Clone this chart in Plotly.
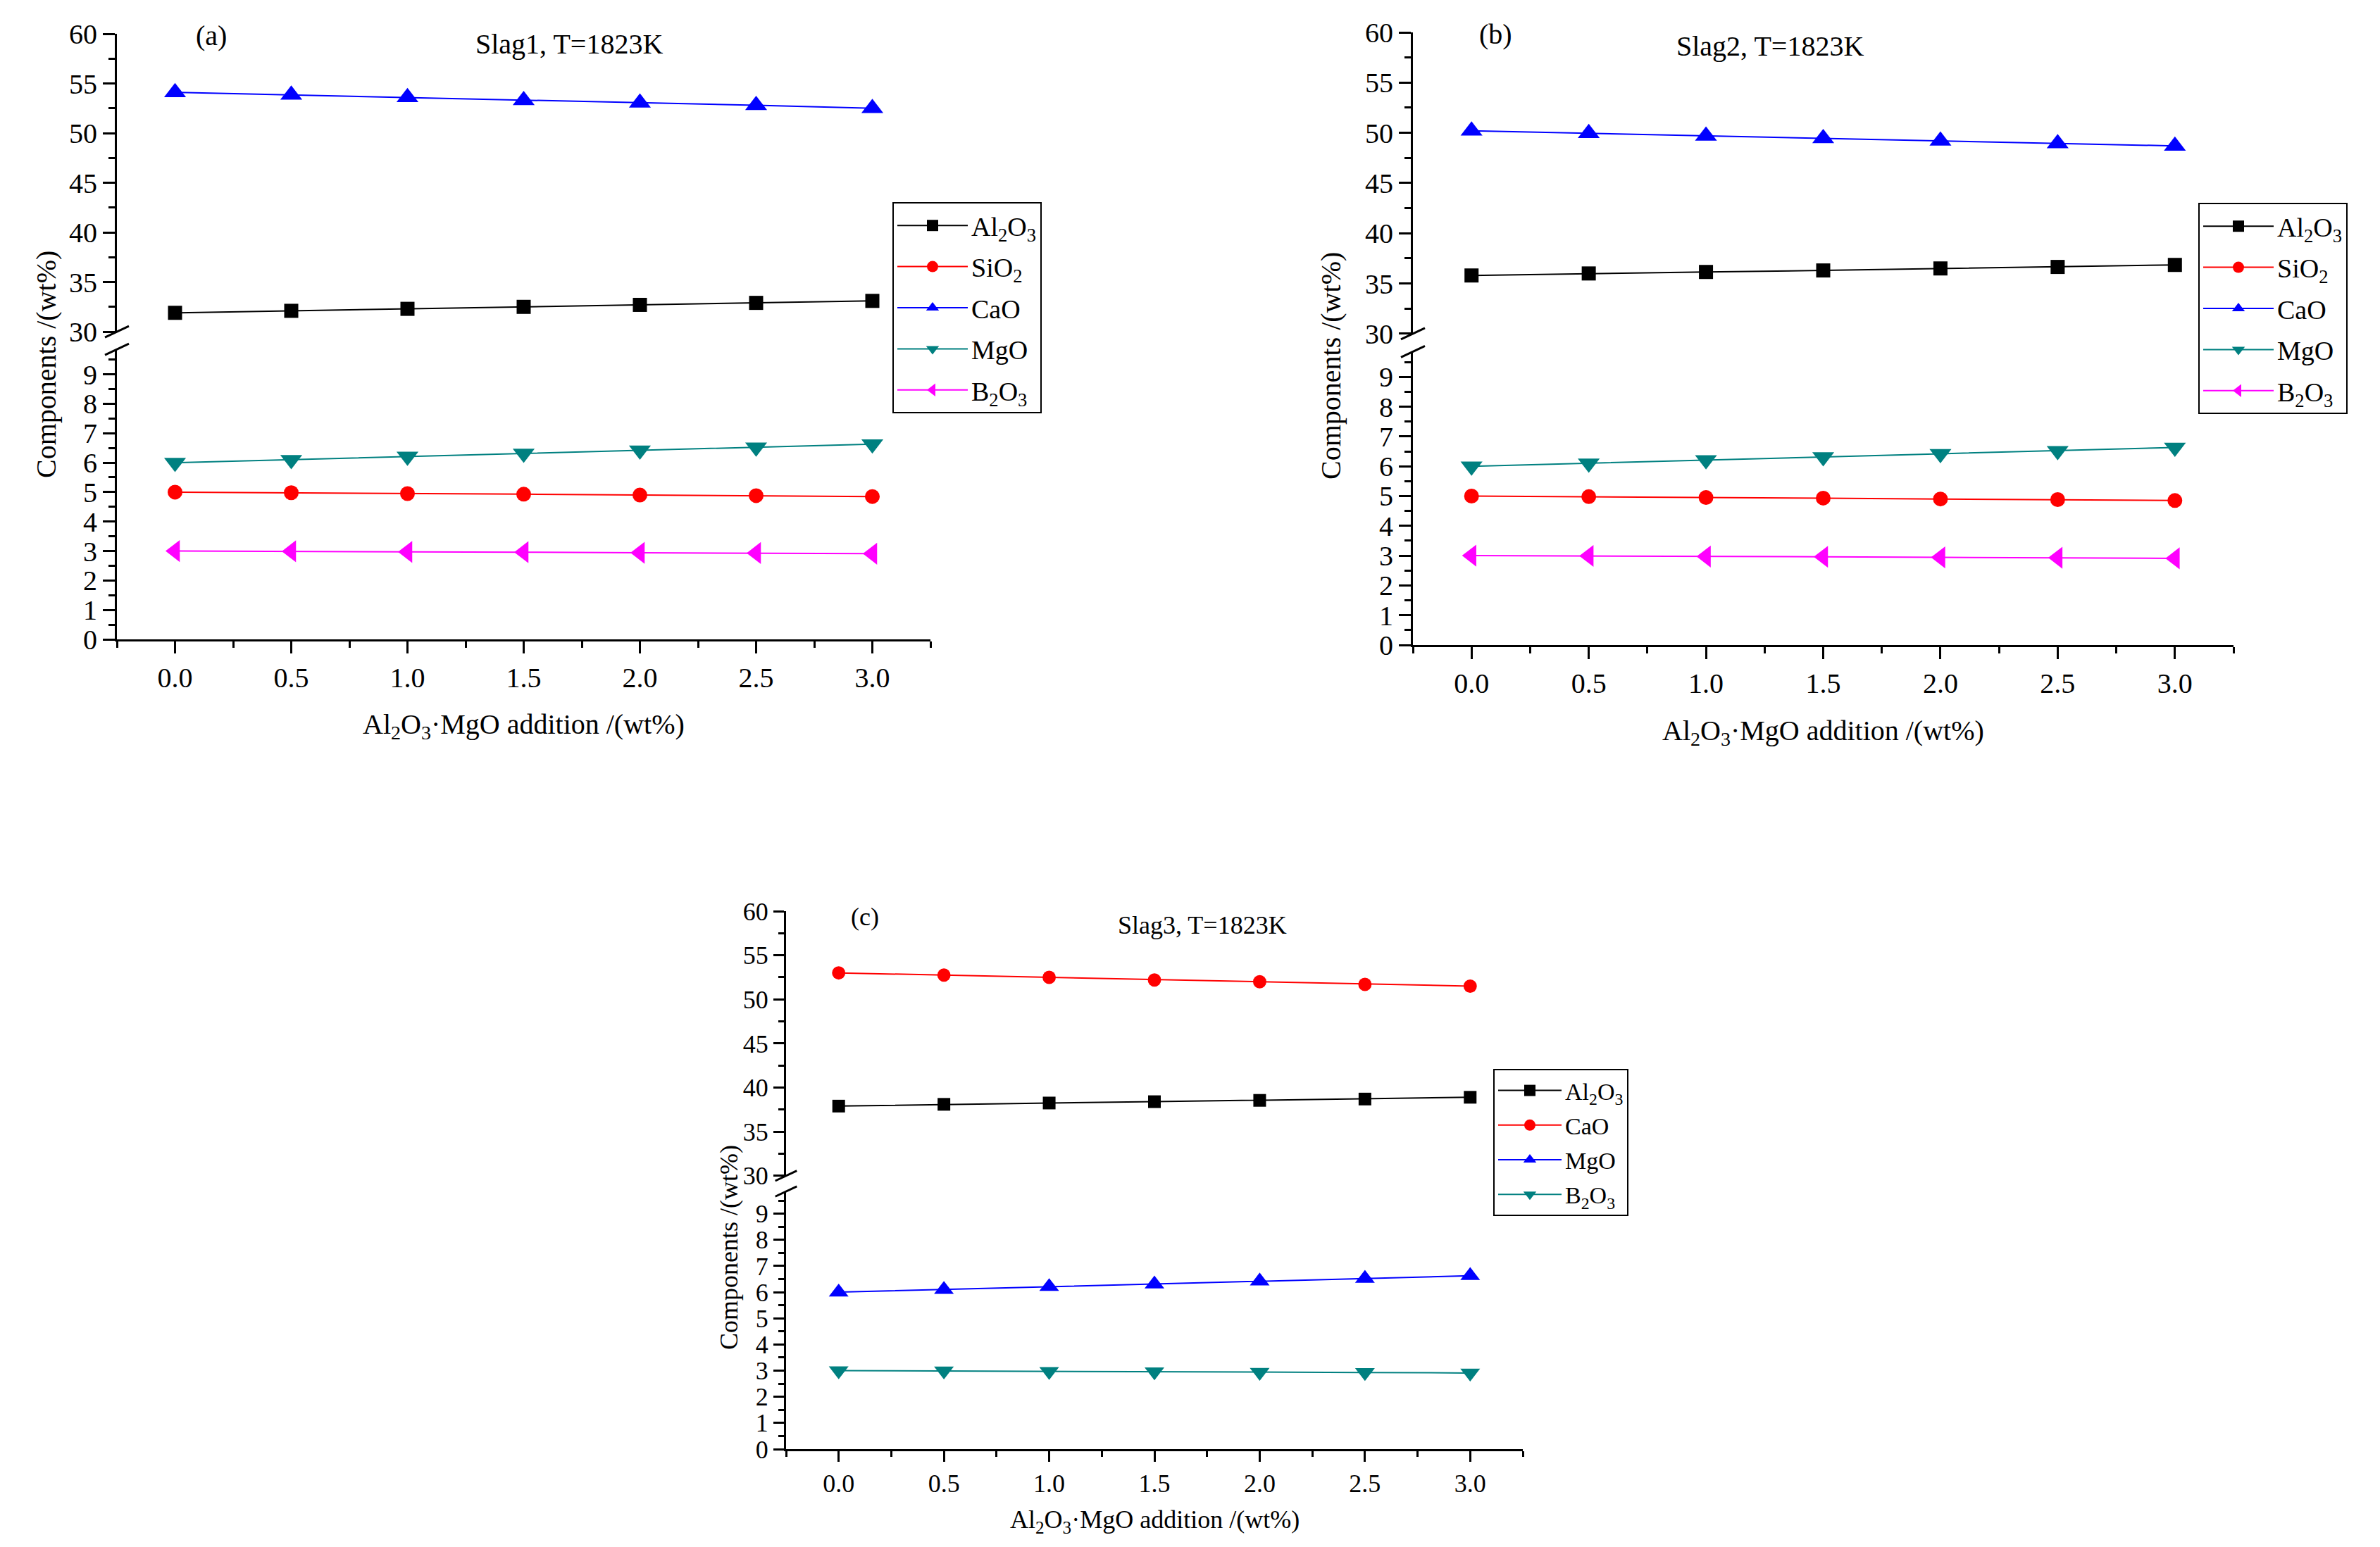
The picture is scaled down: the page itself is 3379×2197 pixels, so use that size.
import plotly.graph_objects as go

W, H = 3379, 2197
OFF = 8  # page body margin of the html output
FONT = "Liberation Serif"

# x values shared by all panels
addition = [0.0, 0.5, 1.0, 1.5, 2.0, 2.5, 3.0]

# (a) Slag1
slag1_al2o3 = [31.9, 32.1, 32.3, 32.5, 32.7, 32.9, 33.1]
slag1_sio2 = [5.00, 4.98, 4.95, 4.93, 4.90, 4.88, 4.85]
slag1_cao = [54.1, 53.85, 53.6, 53.3, 53.05, 52.8, 52.5]
slag1_mgo = [6.00, 6.10, 6.21, 6.31, 6.42, 6.52, 6.63]
slag1_b2o3 = [3.00, 2.99, 2.97, 2.96, 2.94, 2.93, 2.91]

# (b) Slag2
slag2_al2o3 = [35.8, 36.0, 36.15, 36.3, 36.5, 36.65, 36.85]
slag2_sio2 = [5.00, 4.98, 4.95, 4.93, 4.90, 4.88, 4.85]
slag2_cao = [50.2, 49.95, 49.7, 49.45, 49.2, 48.95, 48.7]
slag2_mgo = [6.00, 6.10, 6.21, 6.31, 6.42, 6.52, 6.63]
slag2_b2o3 = [3.00, 2.99, 2.97, 2.96, 2.94, 2.93, 2.91]

# (c) Slag3
slag3_al2o3 = [37.9, 38.1, 38.25, 38.4, 38.55, 38.7, 38.9]
slag3_cao = [53.0, 52.75, 52.5, 52.2, 52.0, 51.7, 51.5]
slag3_mgo = [6.00, 6.10, 6.21, 6.31, 6.42, 6.52, 6.63]
slag3_b2o3 = [3.00, 2.99, 2.97, 2.96, 2.94, 2.93, 2.91]

AL2O3 = "Al<sub>2</sub>O<sub>3</sub>"
SIO2 = "SiO<sub>2</sub>"
B2O3 = "B<sub>2</sub>O<sub>3</sub>"

BLACK, RED, BLUE, TEAL, MAGENTA = "#000000", "#FF0000", "#0000FF", "#008080", "#FF00FF"

panels = [
    dict(tag="(a)", title="Slag1, T=1823K", left=166, right=1321, top=48, bottom=908,
         s=1.0, label_xy=(300, 50), title_xy=(808, 62), ytitle_x=65, ytitle_y=518,
         xtitle_y=1031, legend_xy=(1267, 287), gap=6,
         series=[(AL2O3, slag1_al2o3, BLACK, "square"),
                 (SIO2, slag1_sio2, RED, "circle"),
                 ("CaO", slag1_cao, BLUE, "triangle-up"),
                 ("MgO", slag1_mgo, TEAL, "triangle-down"),
                 (B2O3, slag1_b2o3, MAGENTA, "triangle-left")]),
    dict(tag="(b)", title="Slag2, T=1823K", left=2006, right=3171, top=46, bottom=916,
         s=1.0, label_xy=(2123, 48), title_xy=(2513, 66), ytitle_x=1889, ytitle_y=520,
         xtitle_y=1040, legend_xy=(3121, 288), gap=6,
         series=[(AL2O3, slag2_al2o3, BLACK, "square"),
                 (SIO2, slag2_sio2, RED, "circle"),
                 ("CaO", slag2_cao, BLUE, "triangle-up"),
                 ("MgO", slag2_mgo, TEAL, "triangle-down"),
                 (B2O3, slag2_b2o3, MAGENTA, "triangle-left")]),
    dict(tag="(c)", title="Slag3, T=1823K", left=1116, right=2162, top=1294, bottom=2058,
         s=0.9, label_xy=(1228, 1302), title_xy=(1707, 1314), ytitle_x=1035, ytitle_y=1772,
         xtitle_y=2160, legend_xy=(2120, 1518), gap=2,
         series=[(AL2O3, slag3_al2o3, BLACK, "square"),
                 ("CaO", slag3_cao, RED, "circle"),
                 ("MgO", slag3_mgo, BLUE, "triangle-up"),
                 (B2O3, slag3_b2o3, TEAL, "triangle-down")]),
]

UPPER_FRAC = 0.4919   # 60 -> 30
GAP_FRAC = 0.0291     # axis break
LOW_TOP = 9.85


def px(x):
    return (x - OFF) / W


def py(y):
    return 1 - (y - OFF) / H


fig = go.Figure()
layout = dict(
    width=W, height=H, margin=dict(l=0, r=0, t=0, b=0, pad=0),
    paper_bgcolor="white", plot_bgcolor="white",
    font=dict(family=FONT, color="black"),
    annotations=[], shapes=[],
)

for i, p in enumerate(panels):
    s = p["s"]
    n = i + 1
    xname = "xaxis" if n == 1 else f"xaxis{n}"
    xref = "x" if n == 1 else f"x{n}"
    lo_n, up_n = 2 * i + 1, 2 * i + 2
    lo_name = "yaxis" if lo_n == 1 else f"yaxis{lo_n}"
    up_name = f"yaxis{up_n}"
    lo_ref = "y" if lo_n == 1 else f"y{lo_n}"
    up_ref = f"y{up_n}"
    leg = "legend" if n == 1 else f"legend{n}"

    total = p["bottom"] - p["top"]
    y30 = p["top"] + UPPER_FRAC * total
    ylow = y30 + GAP_FRAC * total

    tick_font = dict(family=FONT, size=round(40 * s), color="black")
    common = dict(showline=True, linecolor="black", linewidth=3, showgrid=False,
                  zeroline=False, ticks="outside", ticklen=round(17 * s), tickwidth=3,
                  tickcolor="black", tickfont=tick_font, automargin=False)

    layout[xname] = dict(common, domain=[px(p["left"]), px(p["right"])],
                         anchor=lo_ref, range=[-0.25, 3.25],
                         tickvals=addition, ticktext=[f"{v:.1f}" for v in addition],
                         minor=dict(dtick=0.25, tick0=0, ticks="outside",
                                    ticklen=round(9 * s), tickwidth=3, tickcolor="black"))
    layout[lo_name] = dict(common, domain=[py(p["bottom"]), py(ylow)], anchor=xref,
                           range=[0, LOW_TOP], tickvals=list(range(0, 10)),
                           minor=dict(dtick=0.5, tick0=0, ticks="outside",
                                      ticklen=round(9 * s), tickwidth=3, tickcolor="black"))
    layout[up_name] = dict(common, domain=[py(y30), py(p["top"])], anchor=xref,
                           range=[30, 60], tickvals=[30, 35, 40, 45, 50, 55, 60],
                           minor=dict(dtick=2.5, tick0=30, ticks="outside",
                                      ticklen=round(9 * s), tickwidth=3, tickcolor="black"))

    for j, (name, vals, color, symbol) in enumerate(p["series"]):
        yref = up_ref if min(vals) >= 30 else lo_ref
        size = {"square": 20, "circle": 21}.get(symbol, 27) * s
        fig.add_trace(go.Scatter(
            x=addition, y=vals, name=name, mode="lines+markers",
            xaxis=xref, yaxis=yref, legend=leg, legendgroup=f"{leg}_{j}",
            cliponaxis=False,
            line=dict(color=color, width=2),
            marker=dict(symbol=symbol, size=size, color=color, line=dict(width=0)),
        ))

    lx, ly = p["legend_xy"]
    layout[leg] = dict(x=px(lx), y=py(ly), xanchor="left", yanchor="top",
                       bgcolor="white", bordercolor="black", borderwidth=2,
                       font=dict(family=FONT, size=round(38 * s), color="black"),
                       itemwidth=round(100 * s), tracegroupgap=p["gap"])

    # axis break marks
    ax = p["left"]
    for yb in (y30, ylow):
        layout["shapes"].append(dict(
            type="line", xref="paper", yref="paper",
            x0=px(ax - 17 * s), y0=py(yb + 8 * s), x1=px(ax + 17 * s), y1=py(yb - 8 * s),
            line=dict(color="black", width=3)))

    text_font = dict(family=FONT, size=round(40 * s), color="black")
    ann = layout["annotations"]
    for text, (tx, ty), angle in [
        (p["tag"], p["label_xy"], 0),
        (p["title"], p["title_xy"], 0),
        ("Components /(wt%)", (p["ytitle_x"], p["ytitle_y"]), -90),
        (AL2O3 + "·MgO addition /(wt%)", ((p["left"] + p["right"]) / 2, p["xtitle_y"]), 0),
    ]:
        ann.append(dict(text=text, x=px(tx), y=py(ty), textangle=angle,
                        xref="paper", yref="paper", xanchor="center", yanchor="middle",
                        showarrow=False, font=text_font))

fig.update_layout(**layout)
fig.update_layout(showlegend=True)

fig.write_html("out.html")
